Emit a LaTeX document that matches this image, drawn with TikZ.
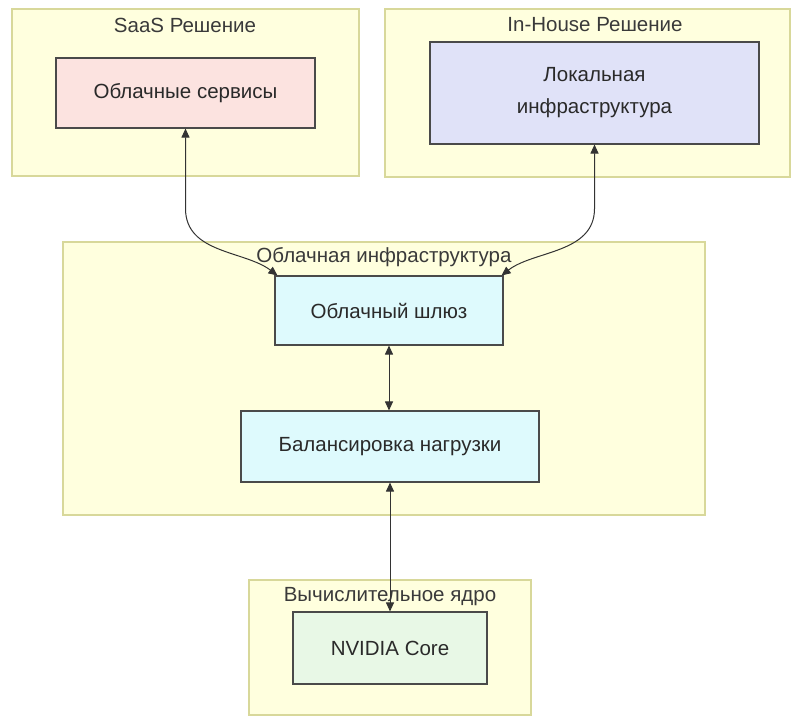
\documentclass[tikz,border=0pt]{standalone}
\usepackage{fontspec}
\setmainfont{Liberation Sans}
\usetikzlibrary{arrows.meta,calc}
\definecolor{clfill}{HTML}{FFFFDE}
\definecolor{cldraw}{HTML}{D8D89A}
\definecolor{ndraw}{HTML}{4A4A4A}
\definecolor{pinkf}{HTML}{FCE3E0}
\definecolor{lavf}{HTML}{E0E2F8}
\definecolor{cyanf}{HTML}{DEFAFD}
\definecolor{greenf}{HTML}{E8F8E6}
\definecolor{txt}{HTML}{2A2A2A}
\definecolor{ttl}{HTML}{3A3A3A}
\definecolor{arr}{HTML}{333333}
\tikzset{
  cluster/.style={draw=cldraw, fill=clfill, line width=1.2pt, inner sep=0pt, rectangle},
  box/.style={draw=ndraw, line width=1.1pt, inner sep=0pt, rectangle, align=center, text=txt, font=\fontsize{20.5}{32}\selectfont},
  ctitle/.style={text=ttl, font=\fontsize{20.5}{24}\selectfont, inner sep=0pt},
  link/.style={draw=arr, line width=1pt, {Triangle[length=9pt,width=8pt]}-{Triangle[length=9pt,width=8pt]}}
}
\begin{document}
\begin{tikzpicture}[x=1pt,y=-1pt]
\useasboundingbox[fill=white] (0,0) rectangle (794,716);
% clusters
\node[cluster, minimum width=347pt, minimum height=167pt] (saas) at (185.5,92.5) {};
\node[cluster, minimum width=405pt, minimum height=168pt] (inhouse) at (587.5,93) {};
\node[cluster, minimum width=642pt, minimum height=273pt] (cloud) at (384,378.5) {};
\node[cluster, minimum width=282pt, minimum height=135pt] (core) at (390,647.5) {};
% titles
\node[ctitle] (saasT) at (185,25) {SaaS Решение};
\node[ctitle] (inhouseT) at (595,25) {In-House Решение};
\node[ctitle] (coreT) at (390,597) {Вычислительное ядро};
% nodes
\node[box, fill=pinkf, minimum width=259pt, minimum height=70pt] (svc) at (185.5,93) {Облачные сервисы};
\node[box, fill=lavf, minimum width=329pt, minimum height=102pt] (local) at (594.5,93) {Локальная\\инфраструктура};
\node[box, fill=cyanf, minimum width=228pt, minimum height=69pt] (gw) at (389,310.5) {Облачный шлюз};
\node[box, fill=cyanf, minimum width=298pt, minimum height=71pt] (lb) at (390,446.5) {Балансировка нагрузки};
\node[box, fill=greenf, minimum width=194pt, minimum height=72pt] (nv) at (390,648) {NVIDIA Core};
% connectors
\draw[link] (svc.south) -- ($(svc.south)+(0,80)$) .. controls ($(svc.south)+(0,125)$) and ($(gw.north west)+(-30,-25)$) .. ([xshift=3pt]gw.north west);
\draw[link] (local.south) -- ($(local.south)+(0,64)$) .. controls ($(local.south)+(0,109)$) and ($(gw.north east)+(30,-25)$) .. ([xshift=-2pt]gw.north east);
\draw[link] (gw.south) -- (lb.north -| gw.south);
\draw[link] (lb.south) -- (nv.north);
\node[ctitle] (cloudT) at (384,257) {Облачная инфраструктура};
\end{tikzpicture}
\end{document}
